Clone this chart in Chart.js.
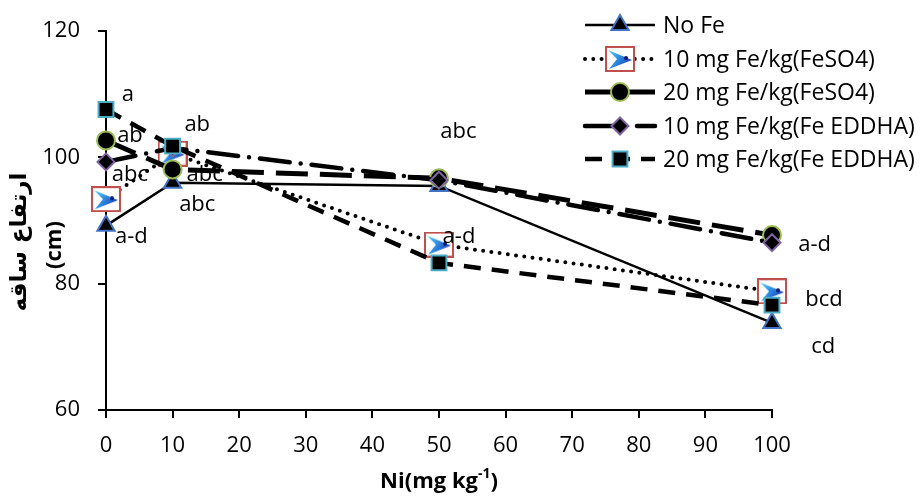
<!DOCTYPE html>
<html>
<head>
<meta charset="utf-8">
<script src="https://cdn.jsdelivr.net/npm/chart.js@4.4.1/dist/chart.umd.min.js"></script>
<style>
  html, body { margin: 0; padding: 0; background: #fff; }
  #wrap { width: 922px; height: 498px; }
</style>
</head>
<body>
<div id="wrap"><canvas id="heightChart" width="922" height="498"></canvas></div>
<script>
// Ni levels (mg/kg) and stem height (cm) per Fe treatment
const niLevels = [0, 10, 50, 100];
const seriesNames = ['No Fe', '10 mg Fe/kg(FeSO4)', '20 mg Fe/kg(FeSO4)', '10 mg Fe/kg(Fe EDDHA)', '20 mg Fe/kg(Fe EDDHA)'];
const noFe = [89.2, 96.0, 95.5, 73.8];
const feso4_10 = [93.4, 100.6, 86.2, 78.8];
const feso4_20 = [102.7, 98.1, 96.7, 87.7];
const eddha_10 = [99.3, 101.5, 96.4, 86.5];
const eddha_20 = [107.6, 101.8, 83.3, 76.6];

// mean separation letters, placed in data units
const groupText = ['a', 'ab', 'abc', 'a-d', 'ab', 'abc', 'abc', 'abc', 'a-d', 'a-d', 'bcd', 'cd'];
const groupNi = [3.3, 3.6, 3.6, 3.8, 13.7, 14.8, 13.7, 52.9, 53.0, 106.4, 107.8, 107.7];
const groupCm = [110.0, 103.4, 97.2, 87.4, 105.2, 97.3, 92.5, 104.0, 87.5, 86.1, 77.5, 70.1];

const xTitle = 'Ni(mg kg';
const xTitleSup = '-1';
const yTitle = ['ارتفاع ساقه', '(cm)'];

const FONT = "'Open Sans', sans-serif";

function makeArrowMarker() {
  const c = document.createElement('canvas');
  c.width = 30; c.height = 26;
  const g = c.getContext('2d');
  g.fillStyle = '#fff';
  g.fillRect(1, 1, 28, 24);
  g.strokeStyle = '#C0504D';
  g.lineWidth = 2;
  g.strokeRect(1, 1, 28, 24);
  const grad = g.createLinearGradient(3, 4, 27, 20);
  grad.addColorStop(0, '#62D6F2');
  grad.addColorStop(0.45, '#2C8EE2');
  grad.addColorStop(1, '#1B2DB5');
  g.fillStyle = grad;
  g.beginPath();
  g.moveTo(3, 4);
  g.lineTo(27, 14);
  g.lineTo(4, 23);
  g.lineTo(12, 13);
  g.closePath();
  g.fill();
  g.fillStyle = '#0A1570';
  g.beginPath();
  g.arc(21, 12, 2, 0, Math.PI * 2);
  g.fill();
  return c;
}
const arrowMarker = makeArrowMarker();

const styles = [
  { color: '#000', width: 2.5, dash: [], cap: 'butt', point: 'triangle', radius: 10, fill: '#000', edge: '#4472C4' },
  { color: '#000', width: 4, dash: [0, 8.3], cap: 'round', point: arrowMarker, radius: 14, fill: '#fff', edge: '#C0504D' },
  { color: '#000', width: 5, dash: [32, 12], cap: 'butt', point: 'circle', radius: 9, fill: '#000', edge: '#9BBB59' },
  { color: '#000', width: 4.5, dash: [30, 11, 0, 11], cap: 'round', point: 'rectRot', radius: 8.5, fill: '#000', edge: '#8064A2' },
  { color: '#000', width: 4.5, dash: [17, 11], cap: 'butt', point: 'rect', radius: 10.5, fill: '#000', edge: '#4BACC6' }
];
const seriesValues = [noFe, feso4_10, feso4_20, eddha_10, eddha_20];

const datasets = seriesValues.map((vals, i) => ({
  label: seriesNames[i],
  data: vals.map((v, j) => ({ x: niLevels[j], y: v })),
  borderColor: styles[i].color,
  borderWidth: styles[i].width,
  borderDash: styles[i].dash,
  borderCapStyle: styles[i].cap,
  tension: 0,
  clip: false,
  pointStyle: styles[i].point,
  pointRadius: styles[i].radius,
  pointHoverRadius: styles[i].radius,
  pointBackgroundColor: styles[i].fill,
  pointBorderColor: styles[i].edge,
  pointBorderWidth: 2,
  order: seriesValues.length - i
}));

const textPlugin = {
  id: 'textPlugin',
  afterDraw(chart) {
    const ctx = chart.ctx;
    const xs = chart.scales.x, ys = chart.scales.y;

    // letters
    ctx.save();
    ctx.fillStyle = '#000';
    ctx.font = '22px ' + FONT;
    ctx.textAlign = 'center';
    ctx.textBaseline = 'middle';
    groupText.forEach((t, i) => {
      ctx.fillText(t, xs.getPixelForValue(groupNi[i]), ys.getPixelForValue(groupCm[i]));
    });
    ctx.restore();

    // legend
    const lx0 = 585, lx1 = 655, tx = 663, rowY = [25, 59, 92, 126, 159];
    styles.forEach((s, i) => {
      const y = rowY[i];
      ctx.save();
      ctx.strokeStyle = s.color;
      ctx.lineWidth = s.width;
      ctx.lineCap = s.cap;
      ctx.setLineDash(s.dash);
      ctx.beginPath();
      ctx.moveTo(lx0, y);
      ctx.lineTo(lx1, y);
      ctx.stroke();
      ctx.restore();
      ctx.save();
      ctx.fillStyle = s.fill;
      ctx.strokeStyle = s.edge;
      ctx.lineWidth = 2;
      Chart.helpers.drawPoint(ctx, { pointStyle: s.point, radius: s.radius, rotation: 0, borderWidth: 2 }, (lx0 + lx1) / 2, y);
      ctx.restore();
      ctx.save();
      ctx.fillStyle = '#000';
      ctx.font = '23px ' + FONT;
      ctx.textAlign = 'left';
      ctx.textBaseline = 'middle';
      ctx.fillText(seriesNames[i], tx, y + 1);
      ctx.restore();
    });

    // x title with superscript
    ctx.save();
    ctx.fillStyle = '#000';
    ctx.textBaseline = 'alphabetic';
    ctx.font = 'bold 22px ' + FONT;
    const w1 = ctx.measureText(xTitle).width;
    ctx.font = 'bold 14px ' + FONT;
    const w2 = ctx.measureText(xTitleSup).width;
    ctx.font = 'bold 22px ' + FONT;
    const w3 = ctx.measureText(')').width;
    const cx = (chart.chartArea.left + chart.chartArea.right) / 2;
    let x = cx - (w1 + w2 + w3) / 2;
    ctx.textAlign = 'left';
    ctx.fillText(xTitle, x, 488);
    ctx.font = 'bold 14px ' + FONT;
    ctx.fillText(xTitleSup, x + w1, 478);
    ctx.font = 'bold 22px ' + FONT;
    ctx.fillText(')', x + w1 + w2, 488);
    ctx.restore();

    // y title, two rotated lines
    ctx.save();
    ctx.fillStyle = '#000';
    ctx.textAlign = 'center';
    ctx.textBaseline = 'middle';
    ctx.translate(20, 242);
    ctx.rotate(-Math.PI / 2);
    ctx.font = "bold 23px 'DejaVu Sans', sans-serif";
    ctx.fillText(yTitle[0], 0, 0);
    ctx.font = 'bold 22px ' + FONT;
    ctx.fillText(yTitle[1], -3, 35);
    ctx.restore();
  }
};

const axisGrid = { drawOnChartArea: false, drawTicks: true, tickLength: 8, color: '#000', lineWidth: 2 };

new Chart(document.getElementById('heightChart'), {
  type: 'line',
  data: { datasets: datasets },
  options: {
    responsive: false,
    animation: false,
    layout: { padding: { left: 0, right: 150, top: 24, bottom: 0 } },
    plugins: { legend: { display: false }, tooltip: { enabled: false } },
    scales: {
      x: {
        type: 'linear', min: 0, max: 100,
        ticks: { stepSize: 10, color: '#000', font: { family: FONT, size: 22 }, padding: 15, maxRotation: 0 },
        grid: axisGrid,
        border: { color: '#000', width: 2 },
        afterFit: (s) => { s.height = 88; }
      },
      y: {
        min: 60, max: 120,
        ticks: { stepSize: 20, color: '#000', font: { family: FONT, size: 22 }, padding: 18 },
        grid: axisGrid,
        border: { color: '#000', width: 2 },
        afterFit: (s) => { s.width = 106; }
      }
    }
  },
  plugins: [textPlugin]
});
</script>
</body>
</html>
